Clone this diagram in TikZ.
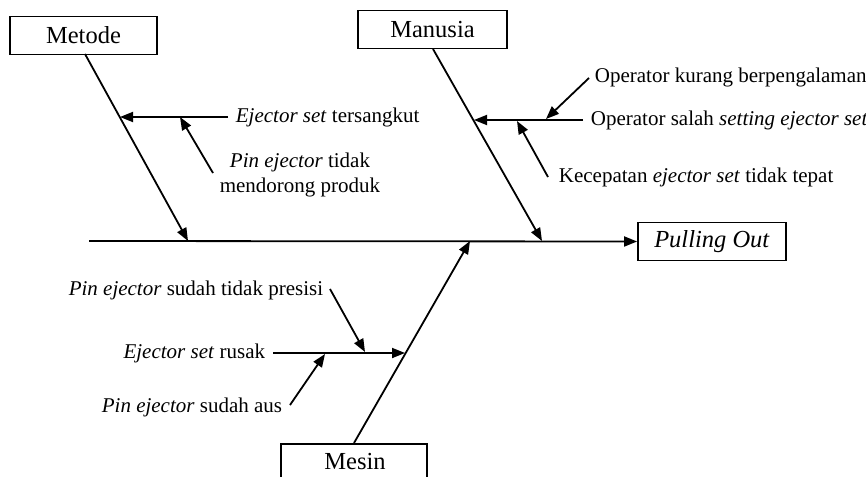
\documentclass[tikz,border=0pt]{standalone}
\usepackage{fontspec}
\setmainfont{Liberation Serif}
\usetikzlibrary{arrows.meta}
\begin{document}
\begin{tikzpicture}[x=1pt,y=-1pt,
  line width=1.8pt,
  arr/.style={-{Triangle[length=13pt,width=10pt]}},
  catbox/.style={draw,rectangle,inner sep=0pt,minimum height=38pt,font=\fontsize{24.5}{28}\selectfont},
  cause/.style={inner sep=0pt,font=\fontsize{21}{25}\selectfont},
]
\useasboundingbox (0,0) rectangle (866,476);
\clip (0,0) rectangle (866,476);
% category boxes
\node[catbox,minimum width=147pt] (metode) at (83.5,35.5) {Metode};
\node[catbox,minimum width=149pt] (manusia) at (432.5,29.5) {Manusia};
\node[catbox,minimum width=148pt] (pulling) at (712,241.5) {\textit{Pulling Out}};
\node[catbox,minimum width=146pt,minimum height=40pt,anchor=north] (mesin) at (354,443) {};
\node[font=\fontsize{24.5}{28}\selectfont,inner sep=0pt] (mesinlbl) at (355,462) {Mesin};
% spine
\coordinate (spinestart) at (89,241);
\draw[arr] (spinestart) -- (pulling.west);
% bone coordinates
\coordinate (mtop) at (85,54);
\coordinate (mtip) at (188,241);
\coordinate (hutop) at (433,49);
\coordinate (hutip) at (542,241);
\coordinate (msbot) at (354,443);
\coordinate (mstip) at (470,241);
\draw[arr] (mtop) -- (mtip);
\draw[arr] (hutop) -- (hutip);
\draw[arr] (msbot) -- (mstip);
% Metode causes
\node[cause,anchor=west] (c1) at (235,117) {\textit{Ejector set} tersangkut};
\coordinate (c1s) at (228,117);
\coordinate (c1t) at (120,117);
\draw[arr] (c1s) -- (c1t);
\node[cause,align=center] (c2) at (300,175) {\textit{Pin ejector} tidak\\mendorong produk};
\coordinate (c2s) at (213,173);
\coordinate (c2t) at (180,117);
\draw[arr] (c2s) -- (c2t);
% Manusia causes
\node[cause,anchor=west] (h1) at (590,120) {Operator salah \textit{setting ejector set}};
\coordinate (h1s) at (583,120);
\coordinate (h1t) at (474,120);
\draw[arr] (h1s) -- (h1t);
\node[cause,anchor=west] (h2) at (594,77) {Operator kurang berpengalaman};
\coordinate (h2s) at (589,78);
\coordinate (h2t) at (546,119);
\draw[arr] (h2s) -- (h2t);
\node[cause,anchor=west] (h3) at (558,177) {Kecepatan \textit{ejector set} tidak tepat};
\coordinate (h3s) at (548,177);
\coordinate (h3t) at (517,121);
\draw[arr] (h3s) -- (h3t);
% Mesin causes
\node[cause,anchor=east] (s1) at (266,353) {\textit{Ejector set} rusak};
\coordinate (s1s) at (273,353);
\coordinate (s1t) at (405,353);
\draw[arr] (s1s) -- (s1t);
\node[cause,anchor=east] (s2) at (324,290) {\textit{Pin ejector} sudah tidak presisi};
\coordinate (s2s) at (330,289);
\coordinate (s2t) at (365,352);
\draw[arr] (s2s) -- (s2t);
\node[cause,anchor=east] (s3) at (283,407) {\textit{Pin ejector} sudah aus};
\coordinate (s3s) at (290,405);
\coordinate (s3t) at (325,354);
\draw[arr] (s3s) -- (s3t);
\end{tikzpicture}
\end{document}
